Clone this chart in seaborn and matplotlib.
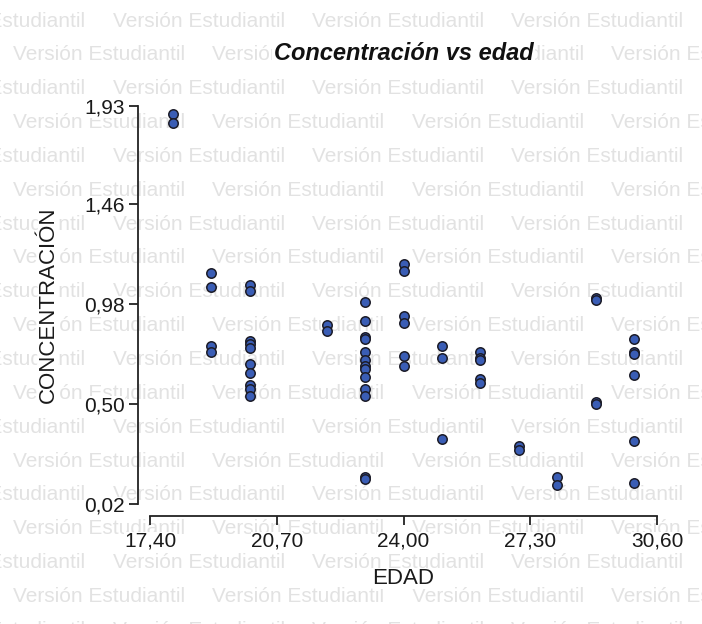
import matplotlib
matplotlib.use("Agg")
import matplotlib.pyplot as plt
import seaborn as sns
import pandas as pd

# ---- data ----
edad = [18, 18,
        19, 19, 19, 19,
        20, 20, 20, 20, 20, 20, 20, 20, 20, 20,
        22, 22,
        23, 23, 23, 23, 23, 23, 23, 23, 23, 23, 23, 23, 23,
        24, 24, 24, 24, 24, 24,
        25, 25, 25,
        26, 26, 26, 26, 26,
        27, 27,
        28, 28,
        29, 29, 29, 29,
        30, 30, 30, 30, 30, 30]
concentracion = [1.89, 1.85,
                 1.13, 1.06, 0.78, 0.75,
                 1.07, 1.04, 0.80, 0.79, 0.77, 0.69, 0.65, 0.59, 0.57, 0.54,
                 0.88, 0.85,
                 0.99, 0.90, 0.82, 0.81, 0.75, 0.71, 0.68, 0.67, 0.63, 0.57, 0.54, 0.15, 0.14,
                 1.17, 1.14, 0.92, 0.89, 0.73, 0.68,
                 0.78, 0.72, 0.33,
                 0.75, 0.72, 0.71, 0.62, 0.60,
                 0.30, 0.28,
                 0.15, 0.11,
                 1.01, 1.00, 0.51, 0.50,
                 0.81, 0.75, 0.74, 0.64, 0.32, 0.12]

x_ticks = [17.40, 20.70, 24.00, 27.30, 30.60]
x_tick_labels = ["17,40", "20,70", "24,00", "27,30", "30,60"]
y_ticks = [0.02, 0.50, 0.98, 1.46, 1.93]
y_tick_labels = ["0,02", "0,50", "0,98", "1,46", "1,93"]

title = "Concentración vs edad"
x_label = "EDAD"
y_label = "CONCENTRACIÓN"
watermark = "Versión Estudiantil"

df = pd.DataFrame({"EDAD": edad, "CONCENTRACION": concentracion})

sns.set_theme(style="white")
plt.rcParams["font.family"] = ["Liberation Sans", "DejaVu Sans"]

W, H = 702, 624
fig = plt.figure(figsize=(W / 100, H / 100), dpi=100)
fig.patch.set_facecolor("white")

# watermark rows (behind everything)
row0 = 26.6
row_step = 33.84
col_step = 199.4
for k in range(19):
    base_y = row0 + row_step * k
    start = 12.9 if k % 2 == 1 else 12.9 + col_step / 2
    x = start - 2 * col_step
    while x < W:
        fig.text(x / W, 1 - base_y / H, watermark, fontsize=15, color="#e2e2e2",
                 ha="left", va="baseline", zorder=-5)
        x += col_step

left, right, top, bottom = 150, 657, 106, 504
ax = fig.add_axes([left / W, 1 - bottom / H, (right - left) / W, (bottom - top) / H])
ax.set_facecolor("none")

sns.scatterplot(data=df, x="EDAD", y="CONCENTRACION", ax=ax, s=46,
                color="#3a5db5", edgecolor="#1c1c28", linewidth=1.1, zorder=3,
                clip_on=False)

ax.set_xlim(17.40, 30.60)
ax.set_ylim(0.02, 1.93)
ax.set_xticks(x_ticks)
ax.set_xticklabels(x_tick_labels)
ax.set_yticks(y_ticks)
ax.set_yticklabels(y_tick_labels)

for s in ["top", "right"]:
    ax.spines[s].set_visible(False)
ax.spines["left"].set_position(("outward", 8.4))
ax.spines["bottom"].set_position(("outward", 8.6))
for s in ["left", "bottom"]:
    ax.spines[s].set_color("#222222")
    ax.spines[s].set_linewidth(1.3)

ax.tick_params(axis="both", which="major", direction="out", length=6.5, width=1.3,
               color="#222222", labelsize=15, labelcolor="#1a1a1a")
ax.tick_params(axis="x", pad=5, bottom=True)
ax.tick_params(axis="y", pad=3, left=True)
for lab in ax.get_xticklabels() + ax.get_yticklabels():
    lab.set_bbox(dict(facecolor="white", edgecolor="none", pad=0))

ax.set_xlabel(x_label, fontsize=16, color="#1a1a1a")
ax.set_ylabel(y_label, fontsize=16, color="#1a1a1a")
ax.xaxis.label.set_verticalalignment("center")
ax.xaxis.set_label_coords(0.5, -(578.3 - bottom) / (bottom - top))
ax.yaxis.label.set_rotation_mode("default")
ax.yaxis.label.set_verticalalignment("center")
ax.yaxis.set_label_coords(-(left - 48) / (right - left), 0.5)
for lab in (ax.xaxis.label, ax.yaxis.label):
    lab.set_bbox(dict(facecolor="white", edgecolor="none", pad=0))

fig.text((left + right) / 2 / W, 1 - 54 / H, title, fontsize=17, fontweight="bold",
         fontstyle="italic", color="#111111", ha="center", va="center", zorder=5,
         bbox=dict(facecolor="white", edgecolor="none", pad=1))

fig.savefig("out.png", dpi=100, facecolor="white")
